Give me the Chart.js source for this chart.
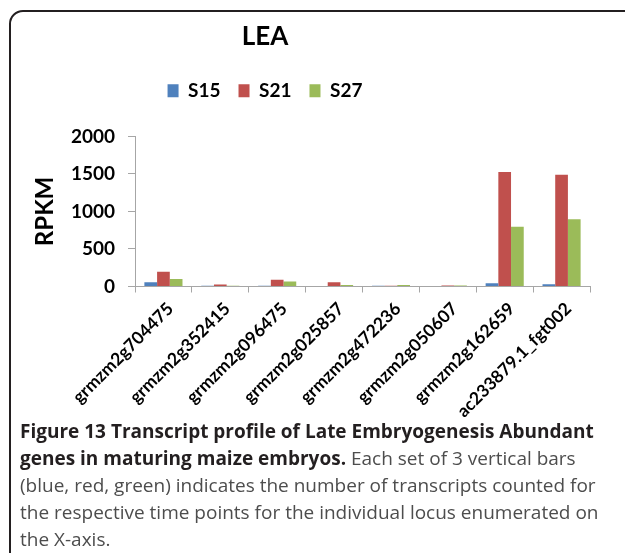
<!DOCTYPE html>
<html>
<head>
<meta charset="utf-8">
<script src="https://cdn.jsdelivr.net/npm/chart.js@4/dist/chart.umd.min.js"></script>
<style>
  html, body { margin: 0; padding: 0; overflow: hidden; background: #fff; }
  body { width: 625px; height: 553px; position: relative; }
  #frame {
    position: absolute; left: 9px; top: 10px; width: 700px; height: 700px;
    border: 2px solid #231f20; border-radius: 14px; box-sizing: border-box;
  }
  #wrap { position: absolute; left: -60px; top: 0; width: 685px; height: 420px; }
  #caption {
    position: absolute; left: 20px; top: 418px; width: 640px;
    font-family: "Open Sans", sans-serif; font-size: 19px; line-height: 27px;
    color: #4d4d4d; white-space: nowrap;
  }
  #caption b { color: #231f20; font-weight: 700; }
</style>
</head>
<body>
<div id="frame"></div>
<div id="wrap"><canvas id="lea"></canvas></div>
<div id="caption">
  <b>Figure 13 Transcript profile of Late Embryogenesis Abundant</b><br>
  <b>genes in maturing maize embryos.</b> Each set of 3 vertical bars<br>
  (blue, red, green) indicates the number of transcripts counted for<br>
  the respective time points for the individual locus enumerated on<br>
  the X-axis.
</div>
<script>
// loci on the X axis
var loci = [
  'grmzm2g704475', 'grmzm2g352415', 'grmzm2g096475', 'grmzm2g025857',
  'grmzm2g472236', 'grmzm2g050607', 'grmzm2g162659', 'ac233879.1_fgt002'
];

// RPKM per time point
var s15 = [55, 10, 10, 8, 10, 0, 42, 30];
var s21 = [195, 25, 90, 55, 10, 12, 1525, 1490];
var s27 = [100, 10, 65, 20, 20, 12, 795, 895];

var yTicks = [0, 500, 1000, 1500, 2000];

var axisGrey = '#a6a6a6';

var ctx = document.getElementById('lea');
ctx.width = 685;
ctx.height = 420;

var chart = new Chart(ctx, {
  type: 'bar',
  data: {
    labels: loci,
    datasets: [
      { label: 'S15', data: s15, backgroundColor: '#4f81bd' },
      { label: 'S21', data: s21, backgroundColor: '#c0504d' },
      { label: 'S27', data: s27, backgroundColor: '#9bbb59' }
    ]
  },
  options: {
    responsive: false,
    animation: false,
    categoryPercentage: 0.67,
    barPercentage: 1.0,
    layout: { padding: { left: 0, right: 35, top: 0, bottom: 0 } },
    plugins: {
      title: {
        display: true,
        text: 'LEA',
        color: '#000',
        font: { family: 'Lato', size: 26, weight: 'bold' },
        padding: { top: 21, bottom: 11 }
      },
      legend: {
        display: true,
        position: 'top',
        labels: {
          color: '#000',
          font: { family: 'Lato', size: 19, weight: 'bold' },
          boxWidth: 11,
          boxHeight: 13,
          padding: 18
        }
      },
      // empty subtitle used as a spacer between legend and plot
      subtitle: {
        display: true,
        text: '',
        weight: 500,
        font: { size: 1 },
        padding: { top: 25, bottom: 0 }
      },
      tooltip: { enabled: false }
    },
    scales: {
      x: {
        grid: { display: true, drawOnChartArea: false, color: axisGrey, tickLength: 6, offset: true },
        border: { color: axisGrey, width: 1 },
        ticks: {
          autoSkip: false,
          minRotation: 45,
          maxRotation: 45,
          padding: 6,
          labelOffset: 7,
          color: '#000',
          font: { family: 'Lato', size: 17.5, weight: 'bold' }
        },
        afterFit: function (scale) { scale.height = 133.5; }
      },
      y: {
        min: 0,
        max: 2000,
        afterBuildTicks: function (scale) {
          scale.ticks = yTicks.map(function (v) { return { value: v }; });
        },
        grid: { display: true, drawOnChartArea: false, color: axisGrey, tickLength: 7 },
        border: { color: axisGrey, width: 1 },
        ticks: {
          padding: 13,
          color: '#000',
          font: { family: 'Lato', size: 19, weight: 'bold' },
          callback: function (v) { return String(v); }
        },
        title: {
          display: true,
          text: 'RPKM',
          color: '#000',
          font: { family: 'Lato', size: 24, weight: 'bold' },
          padding: { top: 90.6, bottom: 0 }
        },
        afterFit: function (scale) { scale.width = 195; }
      }
    }
  }
});
</script>
</body>
</html>
